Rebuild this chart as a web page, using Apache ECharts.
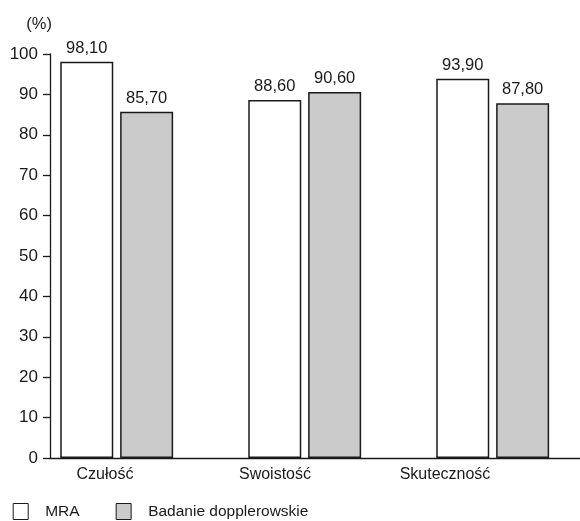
<!DOCTYPE html>
<html>
<head>
<meta charset="utf-8">
<script src="https://cdn.jsdelivr.net/npm/echarts@6/dist/echarts.min.js"></script>
<style>
html,body{margin:0;padding:0;background:#fff;}
#chart{width:580px;height:521px;}
</style>
</head>
<body>
<div id="chart"></div>
<script>
var categories = ['Czułość', 'Swoistość', 'Skuteczność'];
var seriesNames = ['MRA', 'Badanie dopplerowskie'];
var mraValues = [98.10, 88.60, 93.90];
var dopplerValues = [85.70, 90.60, 87.80];
var yTicks = [0, 10, 20, 30, 40, 50, 60, 70, 80, 90, 100];
var yUnit = '(%)';

var numFont = '"Liberation Sans", Arial, sans-serif';
var textFont = '"Liberation Sans", Arial, sans-serif';
var ink = '#1a1a1a';

function fmt(v) { return v.toFixed(2).replace('.', ','); }

var chart = echarts.init(document.getElementById('chart'), null, {renderer: 'canvas'});
var option = {
  backgroundColor: '#ffffff',
  animation: false,
  legend: {
    left: 7.7,
    top: 498,
    itemWidth: 15,
    itemHeight: 16,
    itemGap: 36,
    icon: 'rect',
    textStyle: {fontFamily: textFont, fontSize: 15.5, color: ink, padding: [0, 0, 0, 12]},
    data: [
      {name: seriesNames[0], itemStyle: {color: '#ffffff', borderColor: ink, borderWidth: 1}},
      {name: seriesNames[1], itemStyle: {color: '#cbcbcb', borderColor: ink, borderWidth: 1}}
    ]
  },
  grid: [
    {left: 116.7, width: 376, top: 54, bottom: 63, containLabel: false},
    {left: 50, right: 0, top: 54, bottom: 63, containLabel: false},
    {left: 20, width: 510, top: 54, bottom: 63, containLabel: false}
  ],
  xAxis: [
    {type: 'category', gridIndex: 0, data: categories, boundaryGap: false, axisLine: {show: false}, axisTick: {show: false}, axisLabel: {show: false}},
    {type: 'value', gridIndex: 1, min: 0, max: 1, axisLine: {show: true, lineStyle: {color: ink, width: 1.3}}, axisTick: {show: false}, axisLabel: {show: false}, splitLine: {show: false}},
    {type: 'category', gridIndex: 2, data: categories, axisLine: {show: false}, axisTick: {show: false},
      axisLabel: {show: true, margin: 9, fontFamily: textFont, fontSize: 16, color: ink}}
  ],
  yAxis: [
    {type: 'value', gridIndex: 0, min: 0, max: 100, interval: 10, show: false},
    {type: 'value', gridIndex: 1, min: yTicks[0], max: yTicks[yTicks.length - 1], interval: 10,
      name: yUnit, nameLocation: 'end', nameGap: 21,
      nameTextStyle: {fontFamily: numFont, fontSize: 16.5, color: ink, align: 'right', padding: [0, -2, 0, 0]},
      axisLine: {show: true, lineStyle: {color: ink, width: 1.3}},
      axisTick: {show: true, length: 7, lineStyle: {color: ink, width: 1.3}},
      axisLabel: {margin: 12, fontFamily: numFont, fontSize: 17, color: ink},
      splitLine: {show: false}},
    {type: 'value', gridIndex: 2, min: 0, max: 100, show: false}
  ],
  series: [
    {
      name: seriesNames[0], type: 'bar', xAxisIndex: 0, yAxisIndex: 0, clip: false,
      data: mraValues, barWidth: 53, barGap: '13%',
      itemStyle: {color: '#ffffff', borderColor: ink, borderWidth: 1.5},
      label: {show: true, position: 'top', distance: 5, fontFamily: numFont, fontSize: 16.5, color: ink,
        formatter: function (p) { return fmt(p.value); }}
    },
    {
      name: seriesNames[1], type: 'bar', xAxisIndex: 0, yAxisIndex: 0, clip: false,
      data: dopplerValues, barWidth: 53, barGap: '13%',
      itemStyle: {color: '#cbcbcb', borderColor: ink, borderWidth: 1.5},
      label: {show: true, position: 'top', distance: 5, fontFamily: numFont, fontSize: 16.5, color: ink,
        formatter: function (p) { return fmt(p.value); }}
    }
  ]
};
chart.setOption(option);
</script>
</body>
</html>
